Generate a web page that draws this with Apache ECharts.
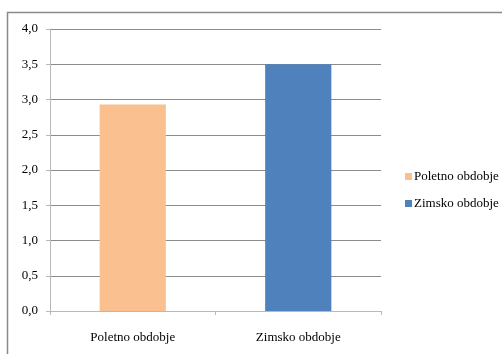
<!DOCTYPE html>
<html>
<head>
<meta charset="utf-8">
<script src="https://cdn.jsdelivr.net/npm/echarts@6/dist/echarts.min.js"></script>
<style>
  html, body { margin: 0; padding: 0; background: #ffffff; }
  #chart { width: 502px; height: 354px; }
</style>
</head>
<body>
<div id="chart"></div>
<script>
// Season categories and their mean values
const categories = ['Poletno obdobje', 'Zimsko obdobje'];
const values = [2.93, 3.5];
const barColors = ['#FAC090', '#4F81BD'];
const yTicks = { min: 0, max: 4, interval: 0.5 };

const chart = echarts.init(document.getElementById('chart'));

// One series per category so the legend lists each period
const series = categories.map((name, i) => ({
  name: name,
  type: 'bar',
  barWidth: '40%',
  barGap: '-100%',
  itemStyle: { color: barColors[i] },
  data: categories.map((c, j) => (j === i ? values[i] : '-'))
}));

const serif = '"Liberation Serif", "Times New Roman", serif';

chart.setOption({
  backgroundColor: '#ffffff',
  animation: false,
  graphic: [{
    type: 'rect',
    shape: { x: 7.5, y: 12.5, width: 520, height: 360 },
    style: { fill: 'none', stroke: '#8a8a8a', lineWidth: 1.5 },
    silent: true,
    z: -1
  }],
  grid: { left: 50, right: 121, top: 29, bottom: 43 },
  legend: {
    orient: 'vertical',
    left: 400,
    top: 165,
    icon: 'rect',
    itemWidth: 7,
    itemHeight: 7,
    itemGap: 14,
    textStyle: { fontFamily: serif, fontSize: 13, color: '#000', padding: [0, 0, 0, -3] },
    data: categories
  },
  xAxis: {
    type: 'category',
    data: categories,
    axisLine: { lineStyle: { color: '#b8b8b8', width: 1 } },
    axisTick: { show: true, length: 4, lineStyle: { color: '#b8b8b8' } },
    axisLabel: { fontFamily: serif, fontSize: 13, color: '#000', margin: 20 }
  },
  yAxis: {
    type: 'value',
    min: yTicks.min,
    max: yTicks.max,
    interval: yTicks.interval,
    axisLine: { show: true, lineStyle: { color: '#b8b8b8', width: 1 } },
    axisTick: { show: true, length: 4, lineStyle: { color: '#b8b8b8' } },
    axisLabel: {
      fontFamily: serif, fontSize: 13, color: '#000', margin: 12,
      formatter: v => v.toFixed(1).replace('.', ',')
    },
    splitLine: { lineStyle: { color: '#8c8c8c', width: 1 } }
  },
  series: series
});
</script>
</body>
</html>
